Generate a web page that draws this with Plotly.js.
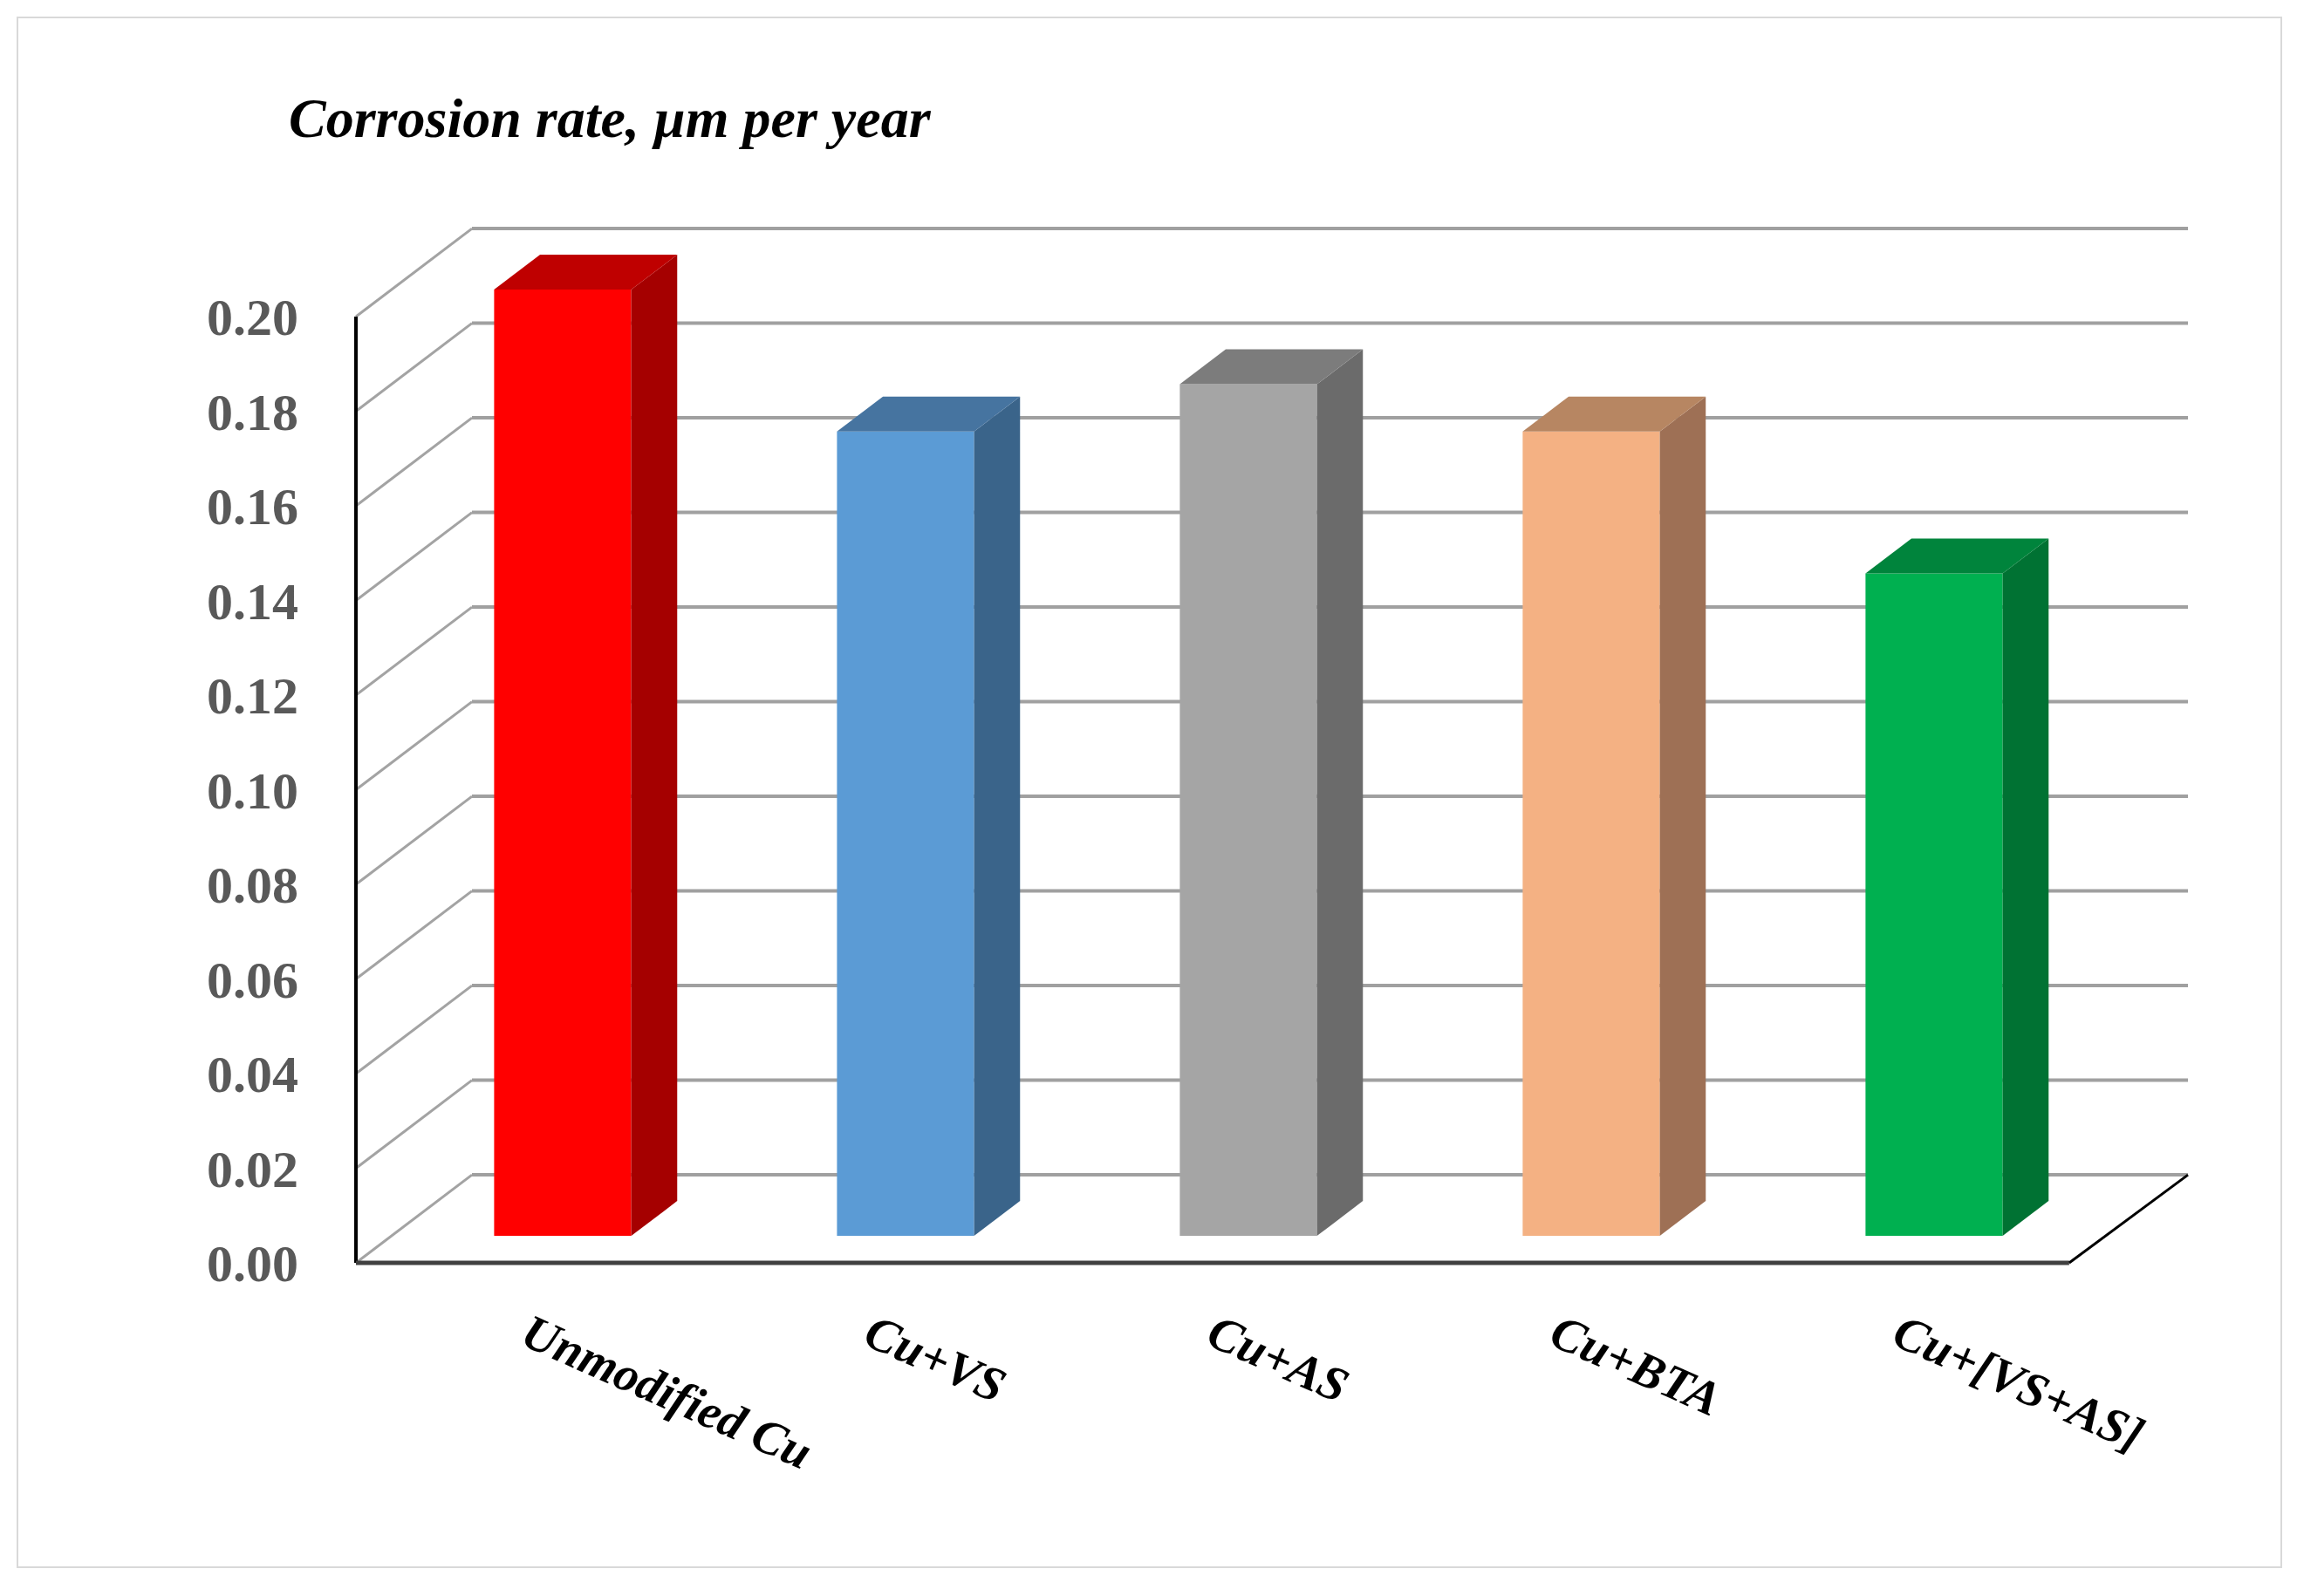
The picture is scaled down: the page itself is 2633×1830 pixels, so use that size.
<!DOCTYPE html>
<html>
<head>
<meta charset="utf-8">
<script src="https://cdn.plot.ly/plotly-3.0.1.min.js"></script>
<style>body{margin:0;background:#fff}</style>
</head>
<body>
<div id="chart"></div>
<script>
const categories = ['Unmodified Cu', 'Cu+VS', 'Cu+AS', 'Cu+BTA', 'Cu+[VS+AS]'];
const values = [0.20, 0.17, 0.18, 0.17, 0.14];
const frontColors = ['#ff0000', '#5b9bd5', '#a5a5a5', '#f4b183', '#00b050'];
const sideColors = ['#a50000', '#3a648a', '#6b6b6b', '#9e7055', '#007233'];
const topColors = ['#bf0000', '#4674a0', '#7c7c7c', '#b78662', '#00843c'];
const yTicks = [0, 0.02, 0.04, 0.06, 0.08, 0.10, 0.12, 0.14, 0.16, 0.18, 0.20];

const W = 2633, H = 1830;
const M = {l: 400, r: 117, t: 250, b: 370};

// fake 3D depth, in axis units
const BAR_W = 0.40;
const BAR_BASE = 0.0057;
const BAR_DX = 0.134, BAR_DY = 0.00737;
const WALL_DX = 0.3384, WALL_DY = 0.0186;
const X_LEFT = -0.603, X_FLOOR_RIGHT = 4.394, X_RIGHT = 4.7405;
const LABEL_SHIFT = 0.10;

var traces = [{
  type: 'bar',
  x: categories.map((c, i) => i),
  y: values,
  base: BAR_BASE,
  width: BAR_W,
  marker: {color: frontColors, line: {width: 0}},
  hoverinfo: 'skip'
}];

// side and top faces of each bar
values.forEach((v, i) => {
  const x0 = i - BAR_W / 2, x1 = i + BAR_W / 2;
  const y0 = BAR_BASE, y1 = BAR_BASE + v;
  traces.push({
    type: 'scatter', mode: 'lines', fill: 'toself', fillcolor: sideColors[i],
    line: {width: 0}, hoverinfo: 'skip',
    x: [x1, x1 + BAR_DX, x1 + BAR_DX, x1, x1],
    y: [y0, y0 + BAR_DY, y1 + BAR_DY, y1, y0]
  });
  traces.push({
    type: 'scatter', mode: 'lines', fill: 'toself', fillcolor: topColors[i],
    line: {width: 0}, hoverinfo: 'skip',
    x: [x0, x1, x1 + BAR_DX, x0 + BAR_DX, x0],
    y: [y1, y1, y1 + BAR_DY, y1 + BAR_DY, y1]
  });
});

function line(x0, y0, x1, y1, color, width) {
  return {type: 'line', layer: 'below', xref: 'x', yref: 'y', x0: x0, y0: y0, x1: x1, y1: y1,
    line: {color: color, width: width}};
}

var shapes = [];
yTicks.forEach(t => {
  shapes.push(line(X_LEFT, t, X_LEFT + WALL_DX, t + WALL_DY, '#a3a3a3', 3));
  shapes.push(line(X_LEFT + WALL_DX, t + WALL_DY, X_RIGHT, t + WALL_DY, '#a0a0a0', 4));
});
shapes.push(line(X_LEFT, 0, X_LEFT, 0.20, '#000000', 4));
shapes.push(line(X_LEFT, 0, X_FLOOR_RIGHT, 0, '#404040', 5));
shapes.push(line(X_FLOOR_RIGHT, 0, X_RIGHT, WALL_DY, '#000000', 3));

// light frame round the whole figure
const plotW = W - M.l - M.r, plotH = H - M.t - M.b;
shapes.push({
  type: 'rect', xref: 'paper', yref: 'paper',
  x0: (20 - M.l) / plotW, x1: (2615 - M.l) / plotW,
  y0: (H - M.b - 1797) / plotH, y1: (H - M.b - 20) / plotH,
  line: {color: '#d9d9d9', width: 2}
});

var layout = {
  width: W,
  height: H,
  margin: M,
  showlegend: false,
  paper_bgcolor: '#ffffff',
  plot_bgcolor: 'rgba(0,0,0,0)',
  title: {
    text: 'Corrosion rate, µm per year',
    font: {family: 'Liberation Serif', size: 64, color: '#000000', weight: 'bold', style: 'italic'},
    xref: 'container', yref: 'container',
    x: 331 / W, xanchor: 'left',
    y: 1 - 135 / H, yanchor: 'middle'
  },
  xaxis: {
    range: [-0.6234, 4.7608],
    showgrid: false, zeroline: false, showline: false,
    tickmode: 'array',
    tickvals: categories.map((c, i) => i - LABEL_SHIFT),
    ticktext: categories,
    tickangle: 24,
    ticklabelstandoff: 26,
    ticks: '',
    tickfont: {family: 'Liberation Serif', size: 56, color: '#000000', weight: 'bold', style: 'italic'}
  },
  yaxis: {
    range: [-0.00221, 0.22083],
    showgrid: false, zeroline: false, showline: false,
    tickmode: 'array',
    tickvals: yTicks,
    ticktext: yTicks.map(t => t.toFixed(2)),
    ticks: '',
    ticklabelstandoff: 57,
    tickfont: {family: 'Liberation Serif', size: 60, color: '#595959', weight: 'bold'}
  },
  shapes: shapes
};

Plotly.newPlot('chart', traces, layout, {displayModeBar: false});
</script>
</body>
</html>
